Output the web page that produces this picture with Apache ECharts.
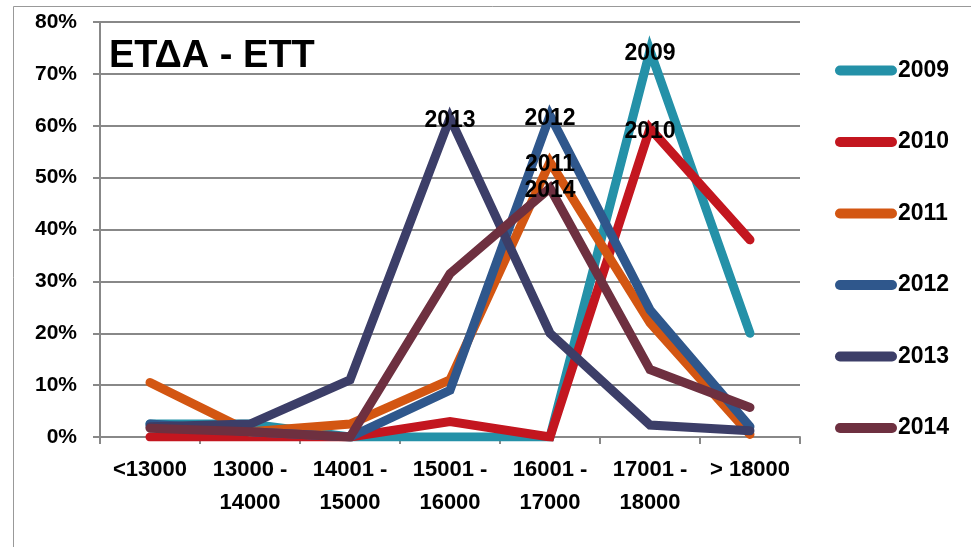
<!DOCTYPE html>
<html><head><meta charset="utf-8">
<script src="https://cdn.jsdelivr.net/npm/echarts@6/dist/echarts.min.js"></script>
<style>html,body{margin:0;padding:0;background:#fff}#c{width:971px;height:547px}</style>
</head><body><div id="c"></div>
<script>
const categories = ['<13000','13000 -\n14000','14001 -\n15000','15001 -\n16000','16001 -\n17000','17001 -\n18000','> 18000'];
const yTicks = [0,10,20,30,40,50,60,70,80];
const s2009 = [2.5, 2.5, 0, 0, 0, 74.5, 20];
const s2010 = [0, 0, 0, 3, 0, 59.5, 38];
const s2011 = [10.5, 1, 2.5, 11, 53, 22, 0.5];
const s2012 = [2.5, 1, 0, 9, 62, 24.5, 2];
const s2013 = [2, 2.5, 11, 61.5, 20, 2.3, 1.2];
const s2014 = [1.7, 1, 0, 31.5, 48, 13, 5.7];
const names = ['2009','2010','2011','2012','2013','2014'];
const colors = ['#2491A8','#C3161F','#D35612','#2F578C','#3C3E68','#6E3040'];
const seriesData = [s2009, s2010, s2011, s2012, s2013, s2014];

const FONT = "'Liberation Sans', Arial, sans-serif";
const chart = echarts.init(document.getElementById('c'), null, {renderer:'canvas'});
const lineSeries = seriesData.map((arr, i) => ({
  name: names[i], type: 'line', z: 2 + i,
  symbol: 'none', showSymbol: false,
  itemStyle: {color: colors[i]},
  lineStyle: {color: colors[i], width: 9, cap: 'round', join: 'miter'},
  data: arr
}));
const labelSeries = seriesData.map((arr, i) => {
  const peak = arr.indexOf(Math.max(...arr));
  return {
    name: 'lbl' + names[i], type: 'line', z: 20,
    symbol: 'circle', symbolSize: 1, showSymbol: true,
    itemStyle: {color: 'rgba(0,0,0,0)'},
    lineStyle: {width: 0, opacity: 0},
    label: {show: false},
    data: arr.map((v, j) => j === peak ? {value: v, label: {show: true, position: 'inside', offset: [0, 3], formatter: names[i], color: '#000', fontSize: 23, fontWeight: 'bold', fontFamily: FONT}} : v)
  };
});
chart.setOption({
  animation: false,
  title: {text: 'ΕΤΔΑ - ΕΤΤ', left: 104, top: 33, textStyle: {fontSize: 38, fontWeight: 'bold', color: '#000', fontFamily: FONT}},
  grid: {left: 100, right: 171, top: 22, bottom: 110, containLabel: false},
  legend: {
    orient: 'vertical', left: 830, top: 54, itemWidth: 62, itemHeight: 10, itemGap: 48.5,
    icon: 'path://M5,0 L57,0 A5,5 0 0 1 57,10 L5,10 A5,5 0 0 1 5,0 Z',
    textStyle: {fontSize: 23, fontWeight: 'bold', color: '#000', fontFamily: FONT, lineHeight: 23, padding: [0,0,0,-4]},
    data: names.map((n, i) => ({name: n, itemStyle: {color: colors[i], opacity: 1}}))
  },
  xAxis: {
    type: 'category', data: categories, boundaryGap: true,
    axisLine: {lineStyle: {color: '#888', width: 2}},
    axisTick: {show: true, length: 7, inside: false, lineStyle: {color: '#888', width: 2}},
    axisLabel: {interval: 0, color: '#000', fontSize: 22, fontWeight: 'bold', fontFamily: FONT, lineHeight: 33, margin: 16}
  },
  yAxis: {
    type: 'value', min: 0, max: 80, interval: 10,
    axisLine: {show: true, lineStyle: {color: '#888', width: 2}},
    axisTick: {show: true, length: 7, lineStyle: {color: '#888', width: 2}},
    splitLine: {lineStyle: {color: '#888', width: 2}},
    axisLabel: {formatter: '{value}%', color: '#000', fontSize: 21, fontWeight: 'bold', fontFamily: FONT, margin: 23}
  },
  graphic: [{type: 'rect', z: -10, shape: {x: 13.5, y: 6.5, width: 1000, height: 600}, style: {fill: 'none', stroke: '#999', lineWidth: 1}}],
  series: lineSeries.concat(labelSeries)
});
</script></body></html>
